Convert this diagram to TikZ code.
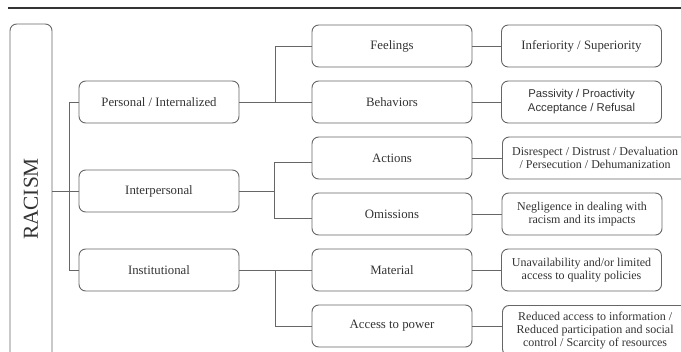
\documentclass[tikz,border=0pt]{standalone}
\usepackage{fontspec}
\setmainfont{Liberation Serif}
\newfontfamily\sansbox{Liberation Sans}
\definecolor{linegray}{HTML}{666666}
\definecolor{textgray}{HTML}{333333}
\tikzset{
  box/.style={draw=linegray, line width=0.7pt, rounded corners=5pt, minimum width=120pt,
    minimum height=31.5pt, align=center, text=textgray, inner sep=1pt,
    font=\fontsize{9.6}{11}\selectfont},
  leaf/.style={box, font=\fontsize{9}{9.6}\selectfont},
  link/.style={draw=linegray, line width=0.7pt}
}
\begin{document}
\begin{tikzpicture}[x=0.75pt, y=-0.75pt]
\useasboundingbox (0,0) rectangle (681,351);
\clip (0,0) rectangle (681,351);
\draw[line width=0.8pt, draw=textgray] (8,8) -- (681,8);

% root
\node[box, rotate=90, minimum width=262.5pt, font=\fontsize{16}{18}\selectfont] (racism) at (31,199) {RACISM};

% first level
\node[box] (personal) at (159,102) {Personal / Internalized};
\node[box] (interpersonal) at (159,191) {Interpersonal};
\node[box] (institutional) at (159,270) {Institutional};

% second level
\node[box] (feelings) at (392,46) {Feelings};
\node[box] (behaviors) at (392,102) {Behaviors};
\node[box] (actions) at (392,158) {Actions};
\node[box] (omissions) at (392,214) {Omissions};
\node[box] (material) at (392,270) {Material};
\node[box] (power) at (392,326) {Access to power};

% third level
\node[leaf] (inferiority) at (581.5,46) {\fontsize{9.6}{11}\selectfont Inferiority / Superiority};
\node[leaf, font=\sansbox\fontsize{8.5}{10.5}\selectfont] (passivity) at (581.5,102) {Passivity / Proactivity\\Acceptance / Refusal};
\node[leaf, minimum width=139pt, anchor=west] (disrespect) at (502,158) {Disrespect / Distrust / Devaluation\\/ Persecution / Dehumanization};
\node[leaf] (negligence) at (582,214) {Negligence in dealing with\\racism and its impacts};
\node[leaf] (unavailability) at (581.5,270) {Unavailability and/or limited\\access to quality policies};
\node[leaf, minimum width=139pt, minimum height=37.5pt, anchor=north west] (reduced) at (502,305) {Reduced access to information /\\Reduced participation and social\\control / Scarcity of resources};

% trunk
\draw[link] (personal.west) -- ++(-9,0) |- (institutional.west);
\draw[link] (racism.south |- interpersonal.west) -- (interpersonal.west);

% branches
\draw[link] (personal.east) -- ++(36,0) coordinate (pj);
\draw[link] (feelings.west) -| (pj) -- (behaviors.west);
\draw[link] (interpersonal.east) -- ++(35,0) coordinate (ij);
\draw[link] ([yshift=-3pt]actions.west) -| (ij);
\draw[link] ([yshift=-3pt]omissions.west) -| (ij);
\draw[link] (institutional.east) -- ++(36,0) coordinate (nj);
\draw[link] (material.west) -- (nj) |- (power.west);

% leaves
\draw[link] (feelings) -- (inferiority);
\draw[link] (behaviors) -- (passivity);
\draw[link] (actions) -- (disrespect);
\draw[link] (omissions) -- (negligence);
\draw[link] (material) -- (unavailability);
\draw[link] (power) -- (power -| reduced.west);
\end{tikzpicture}
\end{document}
